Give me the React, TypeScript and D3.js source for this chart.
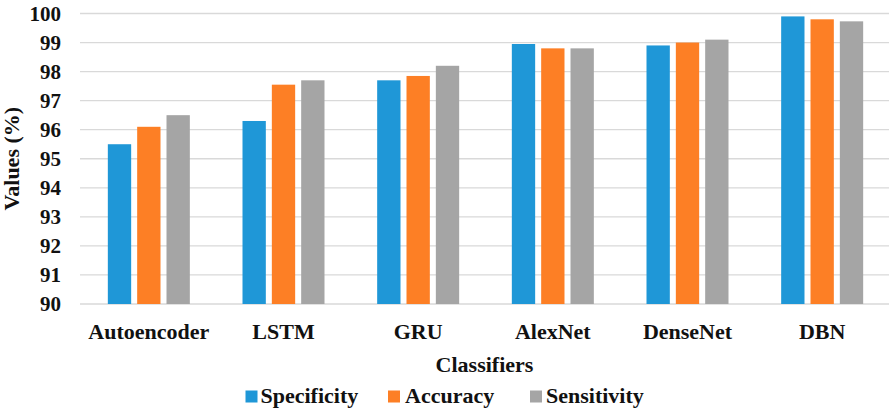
import React from "react";
import * as d3 from "d3";

const categories = ["Autoencoder", "LSTM", "GRU", "AlexNet", "DenseNet", "DBN"];
const seriesNames = ["Specificity", "Accuracy", "Sensitivity"];
const specificity = [95.5, 96.3, 97.7, 98.95, 98.9, 99.9];
const accuracy = [96.1, 97.55, 97.85, 98.8, 99.0, 99.8];
const sensitivity = [96.5, 97.7, 98.2, 98.8, 99.1, 99.73];
const yTicks = [90, 91, 92, 93, 94, 95, 96, 97, 98, 99, 100];
const colors = ["#1F97D7", "#FD7F25", "#A5A5A5"];

const W = 892;
const H = 419;
const FONT = '"Liberation Serif", Tinos, "Times New Roman", "DejaVu Serif", serif';

export default function App() {
  const seriesValues = [specificity, accuracy, sensitivity];
  const x0 = d3.scaleBand<string>().domain(categories).range([81.5, 889.5]).padding(0);
  const x1 = d3.scaleBand<string>().domain(seriesNames).range([-41, 41]).paddingInner(0.205).paddingOuter(0);
  const y = d3.scaleLinear().domain([90, 100]).range([304, 13.5]);
  const gridX0 = 80;
  const gridX1 = 889;

  const legendItems = [
    { sq: 245.5, tx: 260.5 },
    { sq: 388, tx: 405 },
    { sq: 530, tx: 546 },
  ];

  const textStyle = { fontFamily: FONT, fontWeight: 700 as const };

  return (
    <svg
      width={W}
      height={H}
      style={{ position: "absolute", left: 0, top: 0, background: "#fff" }}
    >
      <rect x={0} y={0} width={W} height={H} fill="#fff" />
      {yTicks.map((t) => (
        <g key={t}>
          <line x1={gridX0} x2={gridX1} y1={y(t)} y2={y(t)} stroke="#D9D9D9" strokeWidth={1.3} />
          <text
            x={61}
            y={y(t)}
            dy="0.35em"
            textAnchor="end"
            style={{ ...textStyle, fontSize: 21 }}
            fill="#111"
          >
            {t}
          </text>
        </g>
      ))}
      {categories.map((c, ci) => {
        const cx = (x0(c) as number) + x0.bandwidth() / 2;
        return (
          <g key={c}>
            {seriesNames.map((s, si) => {
              const v = seriesValues[si][ci];
              return (
                <rect
                  key={s}
                  x={cx + (x1(s) as number)}
                  y={y(v)}
                  width={x1.bandwidth()}
                  height={y(90) - y(v)}
                  fill={colors[si]}
                />
              );
            })}
            <text x={cx} y={339} textAnchor="middle" style={{ ...textStyle, fontSize: 22 }} fill="#111">
              {c}
            </text>
          </g>
        );
      })}
      <text
        transform={`translate(19,${(y(90) + y(100)) / 2}) rotate(-90)`}
        textAnchor="middle"
        style={{ ...textStyle, fontSize: 22 }}
        fill="#111"
      >
        Values (%)
      </text>
      <text x={(gridX0 + gridX1) / 2} y={372} textAnchor="middle" style={{ ...textStyle, fontSize: 22 }} fill="#111">
        Classifiers
      </text>
      {seriesNames.map((s, si) => (
        <g key={s}>
          <rect x={legendItems[si].sq} y={390.5} width={12} height={12} fill={colors[si]} />
          <text x={legendItems[si].tx} y={403} style={{ ...textStyle, fontSize: 22 }} fill="#111">
            {s}
          </text>
        </g>
      ))}
    </svg>
  );
}
